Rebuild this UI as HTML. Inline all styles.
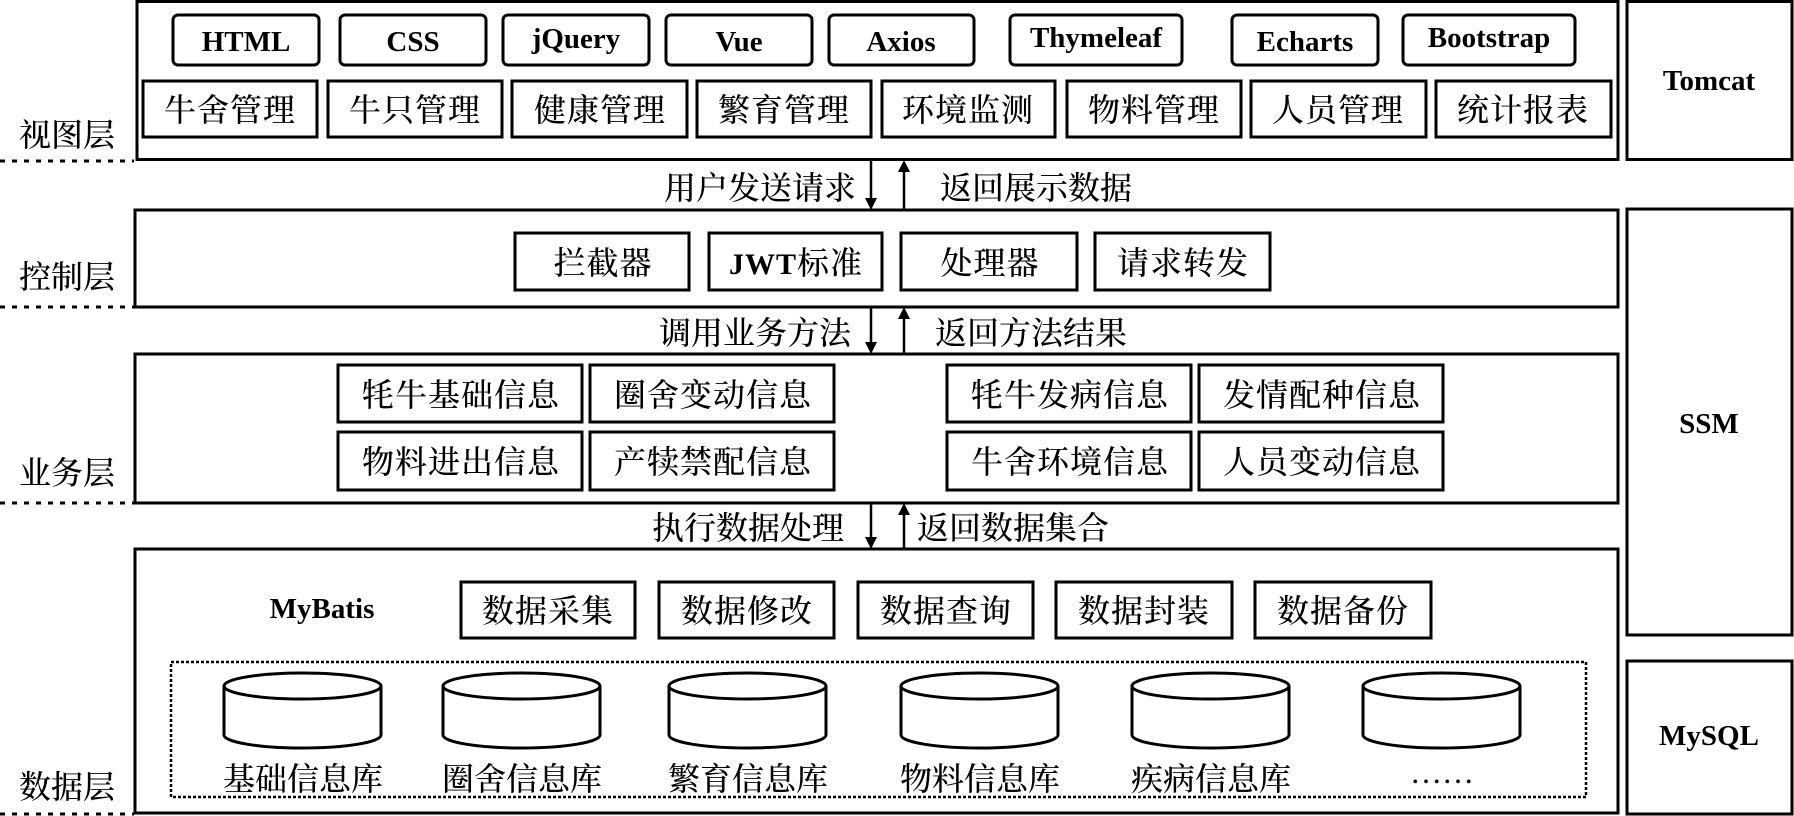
<!DOCTYPE html>
<html><head><meta charset="utf-8"><style>
html,body{margin:0;padding:0;background:#fff}
svg{display:block}
.c{font-family:"Liberation Serif","Noto Serif CJK SC","Noto Sans CJK SC",serif;font-size:32px;fill:#000;font-weight:500}
.e{font-family:"Liberation Serif",serif;font-weight:bold;font-size:29px;fill:#000}
</style></head><body>
<svg width="1794" height="816" viewBox="0 0 1794 816" xmlns="http://www.w3.org/2000/svg">
<g fill="none" stroke="#000" stroke-width="3">
<rect x="137" y="1.5" width="1481" height="158"/>
<rect x="1627" y="1.5" width="165" height="158"/>
<rect x="135" y="210" width="1483" height="97"/>
<rect x="1627" y="209" width="165" height="426"/>
<rect x="135" y="354" width="1483" height="149"/>
<rect x="135" y="549" width="1483" height="264"/>
<rect x="1627" y="661" width="165" height="153"/>
</g>
<g stroke="#000" stroke-width="3" stroke-dasharray="5,7">
<line x1="0" y1="161" x2="134" y2="161"/><line x1="0" y1="307" x2="134" y2="307"/>
<line x1="0" y1="503" x2="134" y2="503"/><line x1="0" y1="814" x2="134" y2="814"/>
</g>
<g class="c">
<text x="19" y="146">视图层</text><text x="19" y="288">控制层</text>
<text x="19" y="484">业务层</text><text x="19" y="798">数据层</text>
</g>
<!-- tech -->
<g fill="none" stroke="#000" stroke-width="3">
<rect x="173" y="15" width="146" height="50" rx="5"/><rect x="340" y="15" width="146" height="50" rx="5"/>
<rect x="503" y="15" width="146" height="50" rx="5"/><rect x="666" y="15" width="146" height="50" rx="5"/>
<rect x="829" y="15" width="145" height="50" rx="5"/><rect x="1010" y="15" width="172" height="50" rx="5"/>
<rect x="1232" y="15" width="146" height="50" rx="5"/><rect x="1403" y="15" width="172" height="50" rx="5"/>
</g>
<g class="e" text-anchor="middle">
<text x="246" y="51">HTML</text><text x="413" y="51">CSS</text><text x="576" y="48">jQuery</text>
<text x="739" y="51">Vue</text><text x="901" y="51">Axios</text><text x="1096" y="47">Thymeleaf</text>
<text x="1305" y="51">Echarts</text><text x="1489" y="47">Bootstrap</text>
</g>
<!-- modules -->
<g fill="none" stroke="#000" stroke-width="3">
<rect x="143" y="81" width="174" height="56"/><rect x="328" y="81" width="174" height="56"/>
<rect x="512" y="81" width="175" height="56"/><rect x="697" y="81" width="174" height="56"/>
<rect x="882" y="81" width="173" height="56"/><rect x="1067" y="81" width="174" height="56"/>
<rect x="1251" y="81" width="175" height="56"/><rect x="1436" y="81" width="175" height="56"/>
</g>
<g class="c" text-anchor="middle" letter-spacing="1">
<text x="230" y="121">牛舍管理</text><text x="415" y="121">牛只管理</text><text x="600" y="121">健康管理</text>
<text x="784" y="121">繁育管理</text><text x="968" y="121">环境监测</text><text x="1154" y="121">物料管理</text>
<text x="1338" y="121">人员管理</text><text x="1523" y="121">统计报表</text>
</g>
<g class="e" text-anchor="middle"><text x="1709" y="90">Tomcat</text><text x="1709" y="433">SSM</text><text x="1709" y="745">MySQL</text></g>
<!-- arrows -->
<g stroke="#000" stroke-width="2.5">
<line x1="871" y1="160" x2="871" y2="200"/><line x1="904" y1="210" x2="904" y2="170"/>
<line x1="871" y1="307" x2="871" y2="344"/><line x1="904" y1="354" x2="904" y2="317"/>
<line x1="871" y1="503" x2="871" y2="539"/><line x1="904" y1="549" x2="904" y2="513"/>
</g>
<g fill="#000">
<path d="M865,198 L877,198 L871,210 z"/><path d="M898,172 L910,172 L904,160 z"/>
<path d="M865,342 L877,342 L871,354 z"/><path d="M898,319 L910,319 L904,307 z"/>
<path d="M865,537 L877,537 L871,549 z"/><path d="M898,515 L910,515 L904,503 z"/>
</g>
<g class="c">
<text x="856" y="199" text-anchor="end">用户发送请求</text><text x="940" y="199">返回展示数据</text>
<text x="851" y="344" text-anchor="end">调用业务方法</text><text x="935" y="344">返回方法结果</text>
<text x="844" y="539" text-anchor="end">执行数据处理</text><text x="917" y="539">返回数据集合</text>
</g>
<!-- control -->
<g fill="none" stroke="#000" stroke-width="3">
<rect x="515" y="233" width="174" height="57"/><rect x="709" y="233" width="173" height="57"/>
<rect x="901" y="233" width="176" height="57"/><rect x="1095" y="233" width="175" height="57"/>
</g>
<g class="c" text-anchor="middle" letter-spacing="1">
<text x="603" y="274">拦截器</text><text x="796" y="274"><tspan class="e" style="font-size:30px">JWT</tspan>标准</text>
<text x="990" y="274">处理器</text><text x="1183" y="274">请求转发</text>
</g>
<!-- business -->
<g fill="none" stroke="#000" stroke-width="3">
<rect x="338" y="365" width="244" height="57"/><rect x="590" y="365" width="244" height="57"/>
<rect x="947" y="365" width="244" height="57"/><rect x="1199" y="365" width="244" height="57"/>
<rect x="338" y="432" width="244" height="58"/><rect x="590" y="432" width="244" height="58"/>
<rect x="947" y="432" width="244" height="58"/><rect x="1199" y="432" width="244" height="58"/>
</g>
<g class="c" text-anchor="middle" letter-spacing="1">
<text x="461" y="406">牦牛基础信息</text><text x="713" y="406">圈舍变动信息</text>
<text x="1070" y="406">牦牛发病信息</text><text x="1322" y="406">发情配种信息</text>
<text x="461" y="473">物料进出信息</text><text x="713" y="473">产犊禁配信息</text>
<text x="1070" y="473">牛舍环境信息</text><text x="1322" y="473">人员变动信息</text>
</g>
<!-- data -->
<text class="e" x="322" y="618" text-anchor="middle">MyBatis</text>
<g fill="none" stroke="#000" stroke-width="3">
<rect x="461" y="582" width="174" height="56"/><rect x="659" y="582" width="175" height="56"/>
<rect x="858" y="582" width="175" height="56"/><rect x="1056" y="582" width="176" height="56"/>
<rect x="1255" y="582" width="176" height="56"/>
</g>
<g class="c" text-anchor="middle" letter-spacing="1">
<text x="548" y="622">数据采集</text><text x="747" y="622">数据修改</text><text x="946" y="622">数据查询</text>
<text x="1144" y="622">数据封装</text><text x="1343" y="622">数据备份</text>
</g>
<rect x="171" y="662" width="1415" height="135" fill="none" stroke="#000" stroke-width="2.5" stroke-dasharray="3,2"/>
<g fill="none" stroke="#000" stroke-width="3">
<g id="cy"><path d="M224,686 L224,735 A78.5,13 0 0 0 381,735 L381,686"/><ellipse cx="302.5" cy="686" rx="78.5" ry="13"/></g>
<use href="#cy" x="219"/><use href="#cy" x="445"/><use href="#cy" x="677"/><use href="#cy" x="908"/><use href="#cy" x="1139"/>
</g>
<g class="c" text-anchor="middle">
<text x="303" y="790">基础信息库</text><text x="522" y="790">圈舍信息库</text><text x="748" y="790">繁育信息库</text>
<text x="980" y="790">物料信息库</text><text x="1211" y="790">疾病信息库</text><text x="1442" y="783">……</text>
</g>
</svg>
</body></html>
